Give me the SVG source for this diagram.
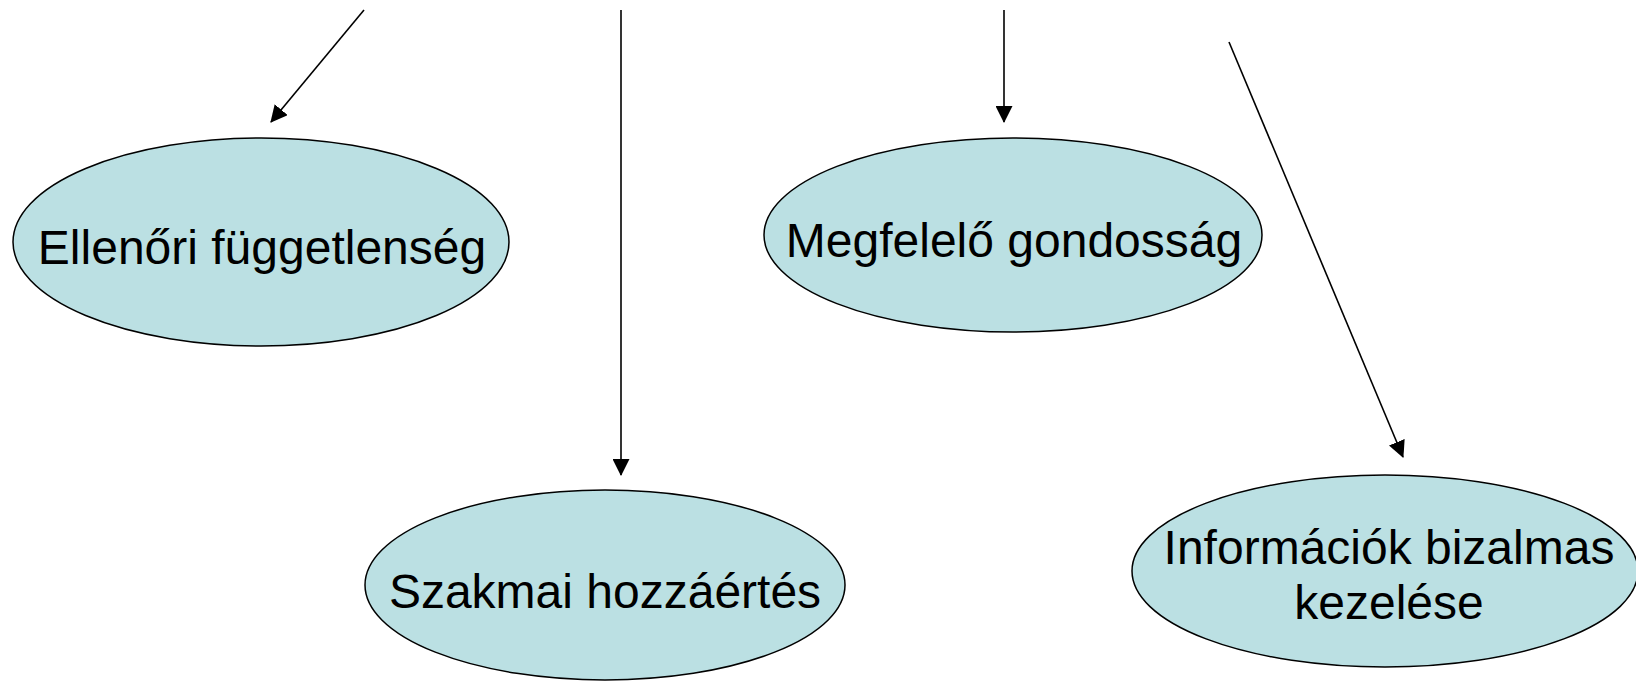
<svg xmlns="http://www.w3.org/2000/svg" width="1636" height="681" viewBox="0 0 1636 681">
<style>
.node ellipse{fill:#BBE0E3;stroke:#000;stroke-width:1.5}
.node text{font-family:"Liberation Sans",Arial,sans-serif;font-size:48px;fill:#000;text-anchor:middle}
.conn line{stroke:#000;stroke-width:1.6;marker-end:url(#arr)}
</style>
<defs>
<marker id="arr" markerUnits="userSpaceOnUse" markerWidth="17" markerHeight="17" refX="16" refY="8.5" orient="auto">
<path d="M0,0 L17,8.5 L0,17 z" fill="#000"/>
</marker>
</defs>
<rect width="1636" height="681" fill="#fff"/>
<g id="connectors" class="conn">
<line x1="364" y1="10" x2="271" y2="122"/>
<line x1="621" y1="10" x2="621" y2="475"/>
<line x1="1004" y1="10" x2="1004" y2="122"/>
<line x1="1229" y1="42" x2="1403" y2="457"/>
</g>
<g id="node-ellenori" class="node">
<ellipse cx="261" cy="242" rx="248" ry="104"/>
<text x="262" y="264">Ellenőri függetlenség</text>
</g>
<g id="node-szakmai" class="node">
<ellipse cx="605" cy="585" rx="240" ry="95"/>
<text x="605" y="608">Szakmai hozzáértés</text>
</g>
<g id="node-megfelelo" class="node">
<ellipse cx="1013" cy="235" rx="249" ry="97"/>
<text x="1014" y="257">Megfelelő gondosság</text>
</g>
<g id="node-informaciok" class="node">
<ellipse cx="1385" cy="571" rx="253" ry="96"/>
<text x="1389" y="564">Információk bizalmas</text>
<text x="1389" y="619">kezelése</text>
</g>
</svg>
